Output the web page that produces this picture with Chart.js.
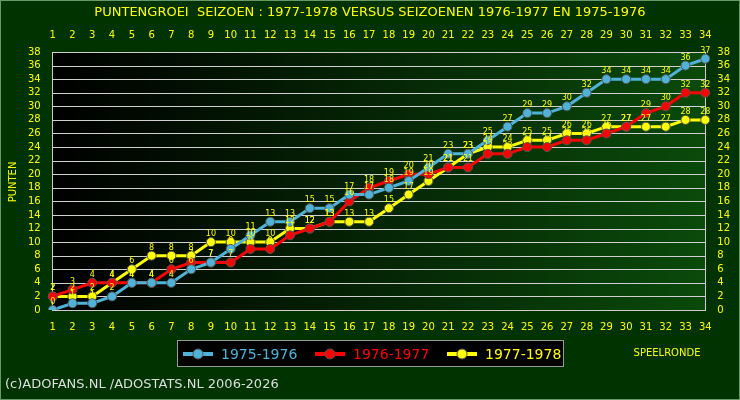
<!DOCTYPE html>
<html><head><meta charset="utf-8">
<script src="https://cdn.jsdelivr.net/npm/chart.js@4/dist/chart.umd.min.js"></script>
<style>
html,body{margin:0;padding:0;background:#003300;}
#wrap{position:relative;width:740px;height:400px;}
</style></head>
<body><div id="wrap"><canvas id="c" width="740" height="400"></canvas></div>
<script>
// speelrondes 1..34
const rondes = Array.from({length: 34}, (_, i) => String(i + 1));
const punten7576 = [0,1,1,2,4,4,4,6,7,9,11,13,13,15,15,17,17,18,19,21,23,23,25,27,29,29,30,32,34,34,34,34,36,37];
const punten7677 = [2,3,4,4,4,4,6,7,7,7,9,9,11,12,13,16,18,19,20,20,21,21,23,23,24,24,25,25,26,27,29,30,32,32];
const punten7778 = [2,2,2,4,6,8,8,8,10,10,10,10,12,12,13,13,13,15,17,19,21,23,24,24,25,25,26,26,27,27,27,27,28,28];
const reeksNamen = ['1975-1976', '1976-1977', '1977-1978'];
const kleuren = ['#4fb3d9', '#ff0000', '#ffff00'];

const FONT = '"DejaVu Sans", sans-serif';

// Achtergrond, rasterlijnen, titel, labels en legenda tekenen
const decor = {
    id: 'decor',
    beforeDraw(chart) {
        const {ctx, chartArea: a} = chart;
        ctx.save();
        ctx.fillStyle = '#003300';
        ctx.fillRect(0, 0, 740, 400);
        ctx.strokeStyle = '#669966';
        ctx.strokeRect(0.5, 0.5, 739, 399);
        const g = ctx.createLinearGradient(a.left, 0, a.right, 0);
        g.addColorStop(0, '#000000');
        g.addColorStop(1, '#0a4a0a');
        ctx.fillStyle = g;
        ctx.fillRect(a.left, a.top, a.right - a.left, a.bottom - a.top);
        ctx.restore();
    },
    beforeDatasetsDraw(chart) {
        const {ctx, chartArea: a, scales} = chart;
        ctx.save();
        ctx.strokeStyle = '#d0d0d0';
        ctx.lineWidth = 1;
        for (let v = 2; v <= 38; v += 2) {
            const y = Math.round(scales.y.getPixelForValue(v)) + 0.5;
            ctx.beginPath(); ctx.moveTo(a.left, y); ctx.lineTo(a.right, y); ctx.stroke();
        }
        ctx.restore();
    },
    afterDatasetsDraw(chart) {
        const {ctx} = chart;
        ctx.save();
        ctx.font = '8px ' + FONT;
        ctx.textAlign = 'center';
        ctx.fillStyle = '#ffff00';
        chart.data.datasets.forEach((ds, i) => {
            const meta = chart.getDatasetMeta(i);
            meta.data.forEach((p, j) => ctx.fillText(ds.data[j], p.x, p.y - 6));
        });
        ctx.font = '13px ' + FONT;
        ctx.fillText('PUNTENGROEI  SEIZOEN : 1977-1978 VERSUS SEIZOENEN 1976-1977 EN 1975-1976', 370, 16);
        ctx.font = '10px ' + FONT;
        ctx.fillText('SPEELRONDE', 667, 356);
        ctx.save();
        ctx.translate(16, 182);
        ctx.rotate(-Math.PI / 2);
        ctx.fillText('PUNTEN', 0, 0);
        ctx.restore();
        // legenda
        ctx.fillStyle = '#000000';
        ctx.fillRect(177, 340, 387, 27);
        ctx.strokeStyle = '#999999';
        ctx.strokeRect(177.5, 340.5, 386, 26);
        reeksNamen.forEach((naam, i) => {
            const x = 183 + i * 132;
            ctx.strokeStyle = kleuren[i];
            ctx.lineWidth = 4;
            ctx.beginPath(); ctx.moveTo(x, 354); ctx.lineTo(x + 30, 354); ctx.stroke();
            ctx.fillStyle = kleuren[i];
            ctx.strokeStyle = '#555';
            ctx.lineWidth = 1;
            ctx.beginPath(); ctx.arc(x + 15, 354, 5, 0, Math.PI * 2); ctx.fill(); ctx.stroke();
            ctx.font = '14px ' + FONT;
            ctx.textAlign = 'left';
            ctx.fillText(naam, x + 38, 359);
        });
        ctx.fillStyle = '#dddddd';
        ctx.font = '13px ' + FONT;
        ctx.fillText('(c)ADOFANS.NL /ADOSTATS.NL 2006-2026', 5, 388);
        ctx.restore();
    }
};

const tickStijl = {color: '#ffff00', font: {family: FONT, size: 10}};
const yAs = (pos) => ({
    type: 'linear', position: pos, min: 0, max: 38,
    afterBuildTicks: (as) => { as.ticks = Array.from({length: 20}, (_, i) => ({value: i * 2})); },
    ticks: {...tickStijl, autoSkip: false, padding: 4},
    grid: {display: false},
    border: {color: '#cccccc'}
});

new Chart(document.getElementById('c'), {
    type: 'line',
    data: {
        labels: rondes,
        datasets: [punten7576, punten7677, punten7778].map((d, i) => ({
            label: reeksNamen[i],
            data: d,
            borderColor: kleuren[i],
            backgroundColor: kleuren[i],
            pointBorderColor: '#555555',
            pointBorderWidth: 1,
            pointRadius: 4.5,
            borderWidth: 3,
            tension: 0,
            xAxisID: 'x', yAxisID: 'y'
        }))
    },
    options: {
        responsive: false,
        animation: false,
        layout: {padding: {left: 24, right: 6, top: 26, bottom: 64}},
        plugins: {legend: {display: false}, tooltip: {enabled: false}},
        scales: {
            x: {position: 'bottom', offset: false, ticks: {...tickStijl, autoSkip: false, maxRotation: 0, padding: 3},
                grid: {display: false}, border: {color: '#cccccc'}},
            x2: {position: 'top', type: 'category', labels: rondes, offset: false,
                ticks: {...tickStijl, autoSkip: false, maxRotation: 0, padding: 3},
                grid: {display: false}, border: {color: '#cccccc'}},
            y: yAs('left'),
            y2: yAs('right')
        }
    },
    plugins: [decor]
});
</script></body></html>
